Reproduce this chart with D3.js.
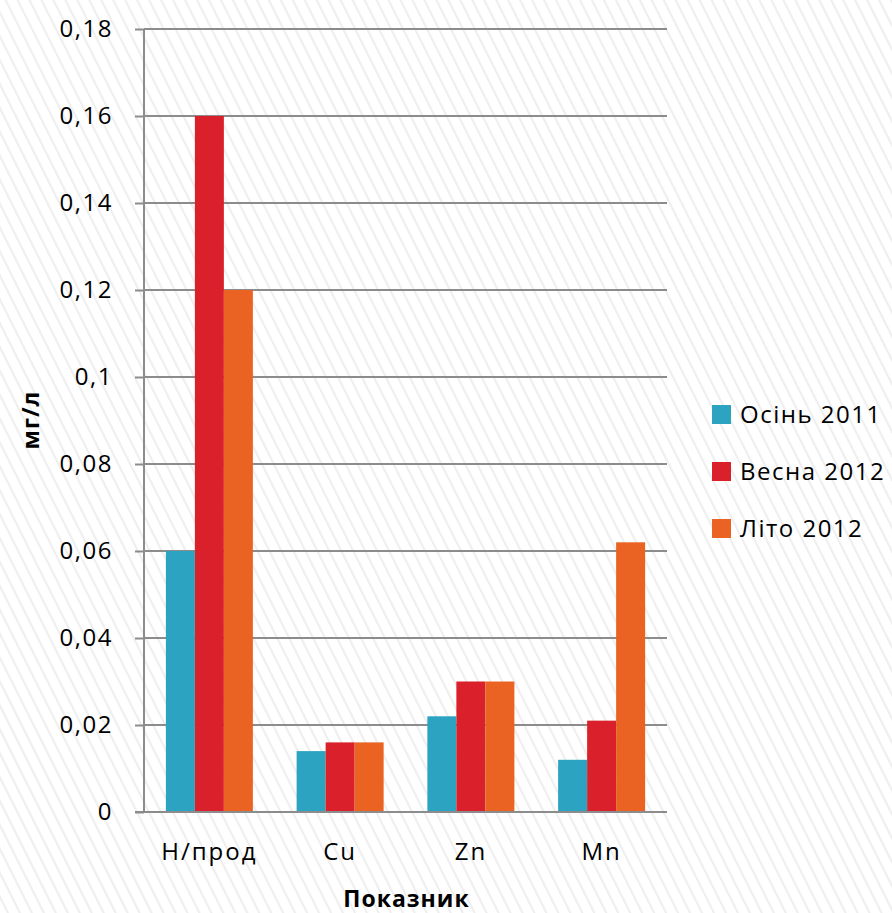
<!DOCTYPE html>
<html><head><meta charset="utf-8">
<script src="https://cdn.jsdelivr.net/npm/d3@7"></script>
<style>body{margin:0;background:#fff;} svg{display:block;}</style>
</head><body>
<script>
const categories = ["Н/прод", "Cu", "Zn", "Mn"];
const seriesNames = ["Осінь 2011", "Весна 2012", "Літо 2012"];
const autumn2011 = [0.06, 0.014, 0.022, 0.012];
const spring2012 = [0.16, 0.016, 0.03, 0.021];
const summer2012 = [0.12, 0.016, 0.03, 0.062];
const yTicks = [0, 0.02, 0.04, 0.06, 0.08, 0.1, 0.12, 0.14, 0.16, 0.18];
const colors = ["#2ca3c0", "#da202b", "#ea6322"];
const seriesValues = [autumn2011, spring2012, summer2012];

const W = 892, H = 913;
const m = {left: 144, right: 225, top: 29, bottom: 101};
const svg = d3.select("body").append("svg").attr("width", W).attr("height", H);
const defs = svg.append("defs");
const pat = defs.append("pattern").attr("id","hatch").attr("patternUnits","userSpaceOnUse")
  .attr("width", 10.7).attr("height", 10.7).attr("patternTransform","rotate(-26.6)");
pat.append("rect").attr("width",10.7).attr("height",10.7).attr("fill","#fff");
pat.append("line").attr("x1",5).attr("x2",5).attr("y1",0).attr("y2",10.7).attr("stroke","#eeeeee").attr("stroke-width",2);
svg.append("rect").attr("width",W).attr("height",H).attr("fill","url(#hatch)");

const font = "'Open Sans', sans-serif";
const x0 = d3.scaleBand().domain(categories).range([m.left, W - m.right]).paddingInner(0.3346).paddingOuter(0.1673);
const x1 = d3.scaleBand().domain(seriesNames).range([0, x0.bandwidth()]);
const y = d3.scaleLinear().domain([0, 0.18]).range([H - m.bottom, m.top]);

const fmt = d => String(d).replace(".", ",");
const yAxis = svg.append("g").attr("transform", `translate(${m.left},0)`)
  .call(d3.axisLeft(y).tickValues(yTicks).tickFormat(fmt).tickSize(9).tickPadding(22));
yAxis.select(".domain").remove();
yAxis.selectAll(".tick line").attr("stroke","#8c8c8c").attr("stroke-width",2);
yAxis.selectAll("text").attr("font-family",font).attr("font-size",24).attr("letter-spacing","1.5px").attr("fill","#000");

// gridlines
svg.append("g").selectAll("line").data(yTicks).join("line")
  .attr("x1", m.left).attr("x2", W - m.right)
  .attr("y1", d => y(d)).attr("y2", d => y(d))
  .attr("stroke", "#8c8c8c").attr("stroke-width", 2);
svg.append("line").attr("x1", m.left).attr("x2", m.left).attr("y1", m.top).attr("y2", H - m.bottom)
  .attr("stroke","#8c8c8c").attr("stroke-width",2);

// bars
const g = svg.append("g");
seriesNames.forEach((s, si) => {
  g.append("g").selectAll("rect").data(categories).join("rect")
    .attr("x", c => x0(c) + x1(s))
    .attr("width", x1.bandwidth())
    .attr("y", (c, i) => y(seriesValues[si][i]))
    .attr("height", (c, i) => y(0) - y(seriesValues[si][i]))
    .attr("fill", colors[si]);
});
svg.append("line").attr("x1", m.left - 9).attr("x2", W - m.right).attr("y1", y(0)).attr("y2", y(0))
  .attr("stroke","#8c8c8c").attr("stroke-width",2);

const xAxis = svg.append("g").attr("transform", `translate(0,${y(0)})`)
  .call(d3.axisBottom(x0).tickSize(0).tickPadding(31));
xAxis.select(".domain").remove();
xAxis.selectAll("text").attr("font-family",font).attr("font-size",24).attr("letter-spacing","2px").attr("fill","#000");

svg.append("text").attr("x", (m.left + W - m.right) / 2 + 1).attr("y", 907)
  .attr("text-anchor","middle").attr("font-family",font).attr("font-size",23).attr("font-weight","bold")
  .attr("letter-spacing","1px").text("Показник");
svg.append("text").attr("transform","translate(39,420) rotate(-90)")
  .attr("text-anchor","middle").attr("font-family",font).attr("font-size",23).attr("font-weight","bold")
  .attr("letter-spacing","1px").text("мг/л");

// legend
const leg = svg.append("g");
seriesNames.forEach((s, i) => {
  const yy = 414 + i * 57;
  leg.append("rect").attr("x", 712).attr("y", yy - 9).attr("width", 19).attr("height", 19).attr("fill", colors[i]);
  leg.append("text").attr("x", 740).attr("y", yy + 9).attr("font-family",font).attr("font-size",24)
    .attr("letter-spacing","1.5px").text(s);
});
</script>
</body></html>
